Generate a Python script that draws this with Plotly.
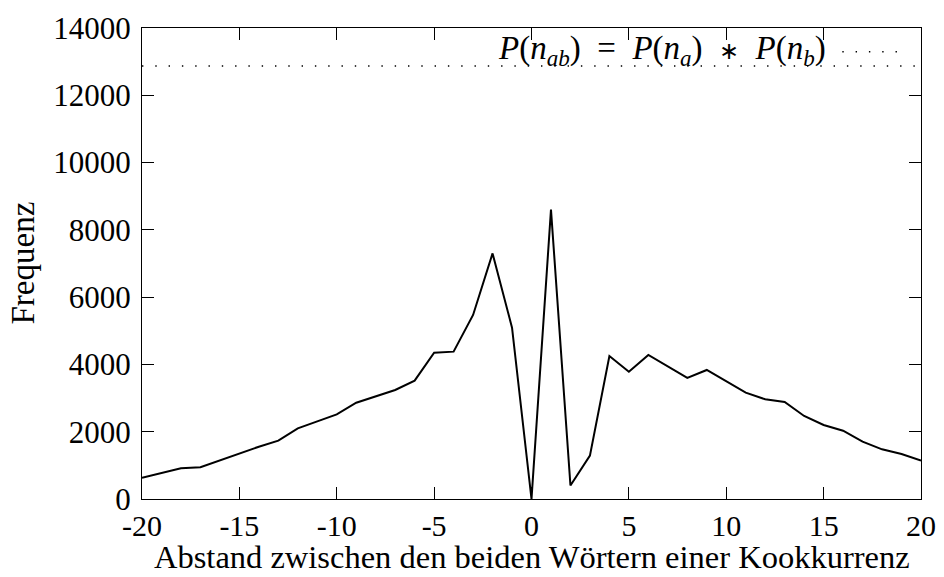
import plotly.graph_objects as go

# Distance between the two words of a co-occurrence and observed frequency
dist = list(range(-20, 21))
freq = [633, 767, 912, 942, 1144, 1358, 1555, 1734, 2100, 2309, 2517,
        2863, 3053, 3240, 3517, 4349, 4380, 5470, 7300, 5093, 0,
        8600, 400, 1290, 4250, 3784, 4280, 3940, 3600, 3835, 3490,
        3160, 2963, 2883, 2467, 2200, 2030, 1703, 1477, 1337, 1140]

# Expected frequency under independence, P(n_ab) = P(n_a) * P(n_b)
indep_x = [-20, 20]
indep_y = [12870, 12870]

x_ticks = [-20, -15, -10, -5, 0, 5, 10, 15, 20]
y_ticks = [0, 2000, 4000, 6000, 8000, 10000, 12000, 14000]

FONT = "Liberation Serif"
FS = 31
SP = "\u00a0\u00a0"

fig = go.Figure()
fig.add_trace(go.Scatter(
    x=indep_x, y=indep_y, mode="lines",
    line=dict(color="black", width=1.4, dash="1.4px,11.9px"),
    hoverinfo="skip", showlegend=False,
))
fig.add_trace(go.Scatter(
    x=dist, y=freq, mode="lines",
    line=dict(color="black", width=2),
    showlegend=False,
))

# key: label on the left, dotted sample on the right
fig.add_annotation(
    xref="paper", yref="paper", x=0.880, y=0.952,
    xanchor="right", yanchor="middle", showarrow=False,
    text=("<i>P</i>(<i>n</i><sub><i>ab</i></sub>)" + SP + "=" + SP +
          "<i>P</i>(<i>n</i><sub><i>a</i></sub>)" + SP +
          "<span style='font-size:24px'>∗</span>" + SP +
          "<i>P</i>(<i>n</i><sub><i>b</i></sub>)"),
    font=dict(family=FONT, size=33, color="black"),
)
fig.add_shape(
    type="line", xref="paper", yref="paper",
    x0=0.899, x1=0.972, y0=0.9497, y1=0.9497,
    line=dict(color="black", width=1.4, dash="1.4px,11.9px"),
)

# axis titles placed below / beside the tick labels
fig.add_annotation(
    xref="paper", yref="paper", x=0.5, y=0, yshift=-77.5,
    xanchor="center", yanchor="bottom", showarrow=False,
    text="Abstand zwischen den beiden Wörtern einer Kookkurrenz",
    font=dict(family=FONT, size=32.5, color="black"),
)
fig.add_annotation(
    xref="paper", yref="paper", x=0, y=0.5, xshift=-120,
    xanchor="center", yanchor="middle", showarrow=False, textangle=-90,
    text="Frequenz",
    font=dict(family=FONT, size=33, color="black"),
)

axis_common = dict(
    showline=True, linecolor="black", linewidth=1.3,
    mirror="ticks", ticks="inside", ticklen=12, tickwidth=1, tickcolor="black",
    showgrid=False, zeroline=False, automargin=False,
)

fig.update_layout(
    width=944, height=577,
    margin=dict(l=142, r=23, t=28, b=78),
    paper_bgcolor="white", plot_bgcolor="white",
    font=dict(family=FONT, size=FS, color="black"),
    xaxis=dict(
        range=[-20, 20], tickvals=x_ticks, ticktext=[str(v) for v in x_ticks],
        ticklabelstandoff=0,
        tickfont=dict(family=FONT, size=30, color="black"),
        **axis_common,
    ),
    yaxis=dict(
        range=[0, 14000], tickvals=y_ticks, ticktext=[str(v) for v in y_ticks],
        ticklabelstandoff=4,
        tickfont=dict(family=FONT, size=FS, color="black"),
        **axis_common,
    ),
)

fig.write_html("out.html")
